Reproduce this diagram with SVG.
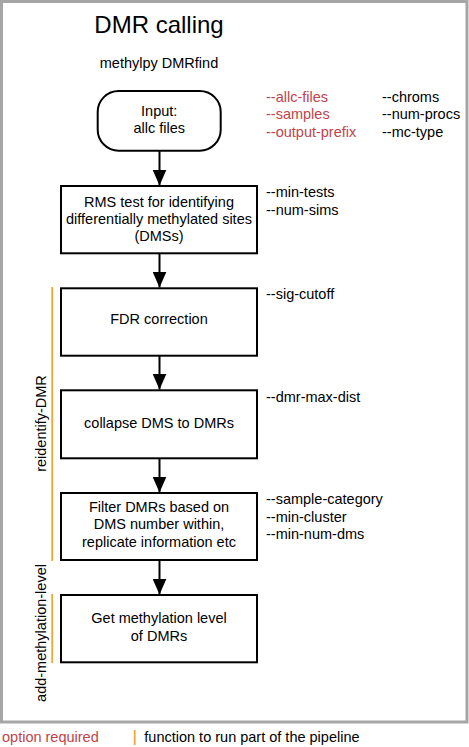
<svg xmlns="http://www.w3.org/2000/svg" width="469" height="747" viewBox="0 0 469 747">
<style>
text{font-family:"Liberation Sans",Arial,sans-serif;font-size:14.5px;fill:#000}
.c{text-anchor:middle}
.r{fill:#c0444a}
.box{fill:#fff;stroke:#000;stroke-width:2}
.ln{stroke:#000;stroke-width:2;fill:none}
.or{stroke:#f0a830;stroke-width:1.8;fill:none}
</style>
<defs>
<marker id="ah" viewBox="0 0 16 14" refX="16" refY="7" markerWidth="16" markerHeight="14" markerUnits="userSpaceOnUse" orient="auto">
<path d="M0,0 L16,7 L0,14 Z" fill="#000"/>
</marker>
</defs>
<rect x="1.5" y="1.5" width="465.5" height="720.5" fill="#fff" stroke="#a6a6a6" stroke-width="3"/>
<text x="159" y="33" class="c" style="font-size:24px">DMR calling</text>
<text x="159" y="68" class="c">methylpy DMRfind</text>

<g id="connectors">
<line class="ln" x1="159.5" y1="150.7" x2="159.5" y2="185.5" marker-end="url(#ah)"/>
<line class="ln" x1="159.5" y1="253.3" x2="159.5" y2="287.5" marker-end="url(#ah)"/>
<line class="ln" x1="159.5" y1="355.7" x2="159.5" y2="389.5" marker-end="url(#ah)"/>
<line class="ln" x1="159.5" y1="458.3" x2="159.5" y2="492.5" marker-end="url(#ah)"/>
<line class="ln" x1="159.5" y1="560" x2="159.5" y2="594.5" marker-end="url(#ah)"/>
</g>

<g id="input">
<rect class="box" x="97.7" y="91" width="123" height="59.7" rx="21" ry="21"/>
<text x="159.2" y="116" class="c">Input:</text>
<text x="159.2" y="133" class="c">allc files</text>
</g>
<g id="rms">
<rect class="box" x="61" y="186" width="196" height="67.3"/>
<text x="159" y="206.7" class="c">RMS test for identifying</text>
<text x="159" y="223.7" class="c">differentially methylated sites</text>
<text x="159" y="241" class="c">(DMSs)</text>
</g>
<g id="fdr">
<rect class="box" x="61" y="288.3" width="196" height="67.4"/>
<text x="159" y="324" class="c">FDR correction</text>
</g>
<g id="collapse">
<rect class="box" x="61" y="390.3" width="196" height="68"/>
<text x="159" y="428" class="c">collapse DMS to DMRs</text>
</g>
<g id="filter">
<rect class="box" x="61" y="493" width="196" height="67"/>
<text x="159" y="511.7" class="c">Filter DMRs based on</text>
<text x="159" y="529" class="c">DMS number within,</text>
<text x="159" y="546.7" class="c">replicate information etc</text>
</g>
<g id="getlevel">
<rect class="box" x="61" y="595" width="196" height="67.3"/>
<text x="159" y="623.3" class="c">Get methylation level</text>
<text x="159" y="641" class="c">of DMRs</text>
</g>

<g id="options">
<text x="266" y="102" class="r">--allc-files</text>
<text x="266" y="119.3" class="r">--samples</text>
<text x="266" y="137" class="r">--output-prefix</text>
<text x="382" y="102">--chroms</text>
<text x="382" y="119.3">--num-procs</text>
<text x="382" y="137">--mc-type</text>
<text x="266" y="197.3">--min-tests</text>
<text x="266" y="215">--num-sims</text>
<text x="266" y="299">--sig-cutoff</text>
<text x="266" y="402.3">--dmr-max-dist</text>
<text x="266" y="504.3">--sample-category</text>
<text x="266" y="521.7">--min-cluster</text>
<text x="266" y="539">--min-num-dms</text>
</g>

<g id="functions">
<line class="or" x1="52.2" y1="287" x2="52.2" y2="561"/>
<line class="or" x1="52.2" y1="594" x2="52.2" y2="663"/>
<text class="c" transform="translate(45.5,423.5) rotate(-90)">reidentify-DMR</text>
<text class="c" transform="translate(45.5,633) rotate(-90)">add-methylation-level</text>
</g>

<g id="legend">
<text x="2" y="742" class="r">option required</text>
<line class="or" x1="134.7" y1="730" x2="134.7" y2="745"/>
<text x="144.3" y="742">function to run part of the pipeline</text>
</g>
</svg>
